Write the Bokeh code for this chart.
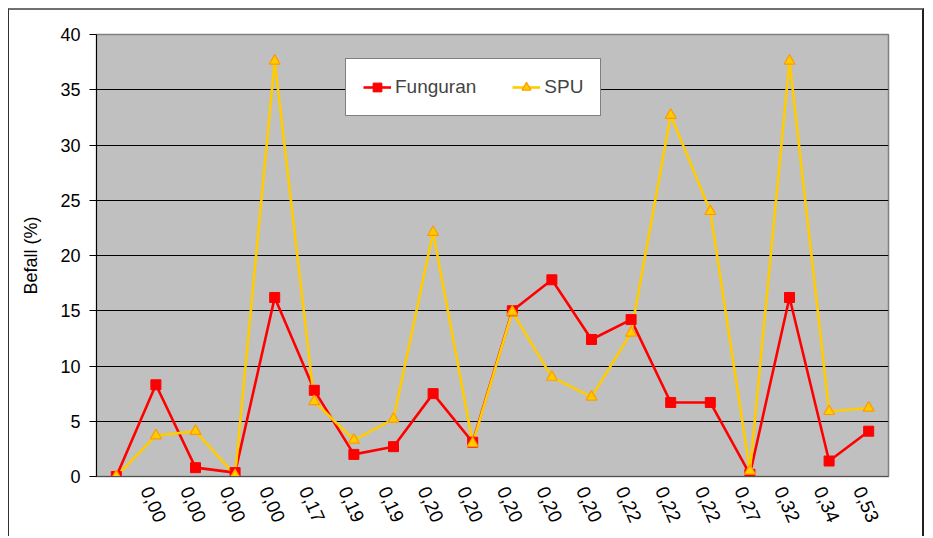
import math
from bokeh.plotting import figure
from bokeh.models import Range1d, FixedTicker, Legend, LegendItem, ColumnDataSource
from bokeh.embed import file_html
from bokeh.resources import INLINE

# ---- data ----
x_pos = list(range(1, 21))
x_labels = ["0,00", "0,00", "0,00", "0,00", "0,17", "0,19", "0,19", "0,20", "0,20",
            "0,20", "0,20", "0,20", "0,22", "0,22", "0,22", "0,27", "0,32", "0,34", "0,53"]
funguran = [0.0, 8.3, 0.8, 0.35, 16.2, 7.8, 2.0, 2.7, 7.5, 3.1,
            15.0, 17.8, 12.4, 14.2, 6.7, 6.7, 0.2, 16.2, 1.4, 4.1]
spu = [0.0, 3.7, 4.1, 0.1, 37.6, 6.8, 3.3, 5.2, 22.1, 3.0,
       14.9, 9.0, 7.2, 13.0, 32.7, 24.0, 0.5, 37.6, 5.9, 6.2]
y_ticks = [0, 5, 10, 15, 20, 25, 30, 35, 40]

FONT = "Liberation Sans"

p = figure(width=916, height=528, output_backend="svg", toolbar_location=None,
           x_range=Range1d(0.5, 20.5), y_range=Range1d(0, 40),
           min_border_left=87, min_border_right=37, min_border_top=24, min_border_bottom=62)
p.styles = {"margin-left": "8px", "margin-top": "8px",
            "border-top": "2px solid #707070", "border-left": "1px solid #303030",
            "border-right": "2px solid #202020"}

p.background_fill_color = "#C0C0C0"
p.border_fill_color = "white"
p.outline_line_color = "#808080"
p.outline_line_width = 1.5

# grid
p.xgrid.visible = False
p.ygrid.ticker = FixedTicker(ticks=y_ticks)
p.ygrid.grid_line_color = "black"
p.ygrid.grid_line_width = 1

# y axis
p.yaxis.ticker = FixedTicker(ticks=y_ticks)
p.yaxis.axis_line_color = "black"
p.yaxis.major_tick_line_color = "black"
p.yaxis.major_tick_out = 7
p.yaxis.major_tick_in = 0
p.yaxis.minor_tick_line_color = None
p.yaxis.major_label_standoff = 9
p.yaxis.major_label_text_font = FONT
p.yaxis.major_label_text_font_size = "18px"
p.yaxis.major_label_text_color = "black"
p.yaxis.axis_label = "Befall (%)"
p.yaxis.axis_label_text_font = FONT
p.yaxis.axis_label_text_font_size = "18px"
p.yaxis.axis_label_text_font_style = "normal"
p.yaxis.axis_label_text_color = "black"
p.yaxis.axis_label_standoff = 16

# x axis: labels slightly left of the categories they follow
label_offset = -0.25
tick_x = [x + label_offset for x in x_pos[1:]]
p.xaxis.ticker = FixedTicker(ticks=tick_x)
p.xaxis.major_label_overrides = {t: lab for t, lab in zip(tick_x, x_labels)}
p.xaxis.major_label_orientation = -math.radians(66)
p.xaxis.major_tick_out = 0
p.xaxis.major_tick_in = 0
p.xaxis.minor_tick_line_color = None
p.xaxis.axis_line_color = "#505050"
p.xaxis.major_label_standoff = 11
p.xaxis.major_label_text_font = FONT
p.xaxis.major_label_text_font_size = "19px"
p.xaxis.major_label_text_color = "black"

src = ColumnDataSource(dict(x=x_pos, f=funguran, s=spu))

rf_line = p.line("x", "f", source=src, line_color="#FF0000", line_width=2.6)
rs_line = p.line("x", "s", source=src, line_color="#FFCC00", line_width=2.6)
rf_mark = p.scatter("x", "f", source=src, marker="square", size=10,
                    fill_color="#FF0000", line_color="#FF0000")
rs_mark = p.scatter("x", "s", source=src, marker="triangle", size=11,
                    fill_color="#FFCC00", line_color="#FF9900", line_width=1.2)

legend = Legend(items=[LegendItem(label="Funguran", renderers=[rf_line, rf_mark]),
                       LegendItem(label="SPU", renderers=[rs_line, rs_mark])],
                orientation="horizontal", location=(249, 360),
                background_fill_color="white", background_fill_alpha=1.0,
                border_line_color="black", border_line_width=1,
                label_text_font=FONT, label_text_font_size="19px",
                glyph_width=28, glyph_height=22, label_standoff=4,
                spacing=36, padding=17, margin=0)
p.add_layout(legend)

open("out.html", "w").write(file_html(p, INLINE))
